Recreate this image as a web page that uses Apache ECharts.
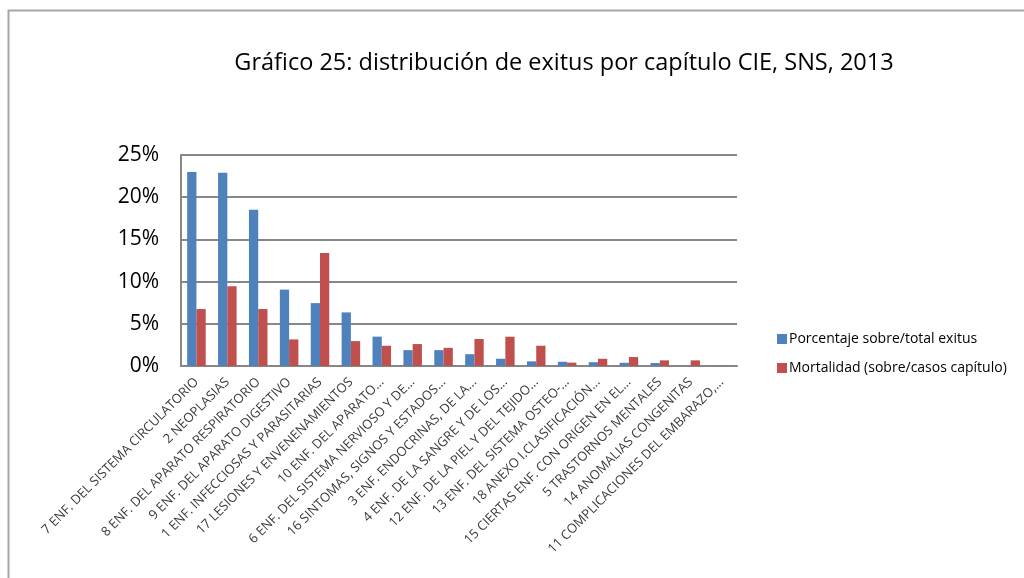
<!DOCTYPE html>
<html>
<head>
<meta charset="utf-8">
<script src="https://cdn.jsdelivr.net/npm/echarts@6/dist/echarts.min.js"></script>
<style>
  html, body { margin: 0; padding: 0; background: #fff; }
  #chart { width: 1024px; height: 578px; }
</style>
</head>
<body>
<div id="chart"></div>
<script>
const categories = [
  '7 ENF. DEL SISTEMA CIRCULATORIO',
  '2 NEOPLASIAS',
  '8 ENF. DEL APARATO RESPIRATORIO',
  '9 ENF. DEL APARATO DIGESTIVO',
  '1 ENF. INFECCIOSAS Y PARASITARIAS',
  '17 LESIONES Y ENVENENAMIENTOS',
  '10 ENF. DEL APARATO...',
  '6 ENF. DEL SISTEMA NERVIOSO Y DE...',
  '16 SINTOMAS, SIGNOS Y ESTADOS...',
  '3 ENF. ENDOCRINAS, DE LA...',
  '4 ENF. DE LA SANGRE Y DE LOS...',
  '12 ENF. DE LA PIEL Y DEL TEJIDO...',
  '13 ENF. DEL SISTEMA OSTEO-...',
  '18 ANEXO I.CLASIFICACIÓN...',
  '15 CIERTAS ENF. CON ORIGEN EN EL...',
  '5 TRASTORNOS MENTALES',
  '14 ANOMALIAS CONGENITAS',
  '11 COMPLICACIONES DEL EMBARAZO,...'
];
// porcentaje sobre total exitus (%)
const porcentaje = [23.0, 22.9, 18.5, 9.05, 7.45, 6.35, 3.48, 1.88, 1.88, 1.4, 0.86, 0.55, 0.5, 0.45, 0.38, 0.35, 0.02, 0.01];
// mortalidad sobre casos del capitulo (%)
const mortalidad = [6.75, 9.45, 6.75, 3.15, 13.4, 2.95, 2.4, 2.6, 2.15, 3.2, 3.47, 2.4, 0.4, 0.86, 1.06, 0.67, 0.67, 0.02];
const yTicks = [0, 5, 10, 15, 20, 25];

const chart = echarts.init(document.getElementById('chart'));
const gray = '#878787';
chart.setOption({
  animation: false,
  textStyle: { fontFamily: '"Open Sans", sans-serif' },
  title: {
    text: 'Gráfico 25: distribución de exitus por capítulo CIE, SNS, 2013',
    left: 559, top: 46, textAlign: 'center',
    textStyle: { fontSize: 23.5, fontWeight: 'normal', color: '#000', fontFamily: '"Open Sans", sans-serif' }
  },
  graphic: [{
    type: 'rect', silent: true,
    shape: { x: 8.5, y: 10.5, width: 1100, height: 700 },
    style: { fill: 'none', stroke: '#a6a6a6', lineWidth: 2 }
  }],
  legend: {
    orient: 'vertical', left: 772, top: 327,
    itemWidth: 10, itemHeight: 10, itemGap: 15,
    icon: 'rect',
    textStyle: { fontSize: 14, color: '#000', padding: [0, 0, 0, -3] },
    data: ['Porcentaje sobre/total exitus', 'Mortalidad (sobre/casos capítulo)']
  },
  grid: { left: 181, right: 287, top: 155, bottom: 212 },
  xAxis: {
    type: 'category', data: categories,
    axisLine: { lineStyle: { color: gray, width: 2 } },
    axisTick: { show: false },
    axisLabel: { interval: 0, rotate: 45, fontSize: 13, color: '#3a3a3a', margin: 14 }
  },
  yAxis: {
    type: 'value', min: 0, max: 25, interval: 5,
    axisLine: { show: true, lineStyle: { color: gray, width: 2 } },
    axisTick: { show: false },
    splitLine: { lineStyle: { color: gray, width: 2 } },
    axisLabel: {
      fontSize: 21, color: '#000', margin: 22,
      formatter: v => yTicks.includes(v) ? v + '%' : ''
    }
  },
  series: [
    { name: 'Porcentaje sobre/total exitus', type: 'bar', data: porcentaje,
      barGap: '0%', barCategoryGap: '40%', itemStyle: { color: '#4f81bd' } },
    { name: 'Mortalidad (sobre/casos capítulo)', type: 'bar', data: mortalidad,
      itemStyle: { color: '#c0504d' } }
  ]
});
</script>
</body>
</html>
